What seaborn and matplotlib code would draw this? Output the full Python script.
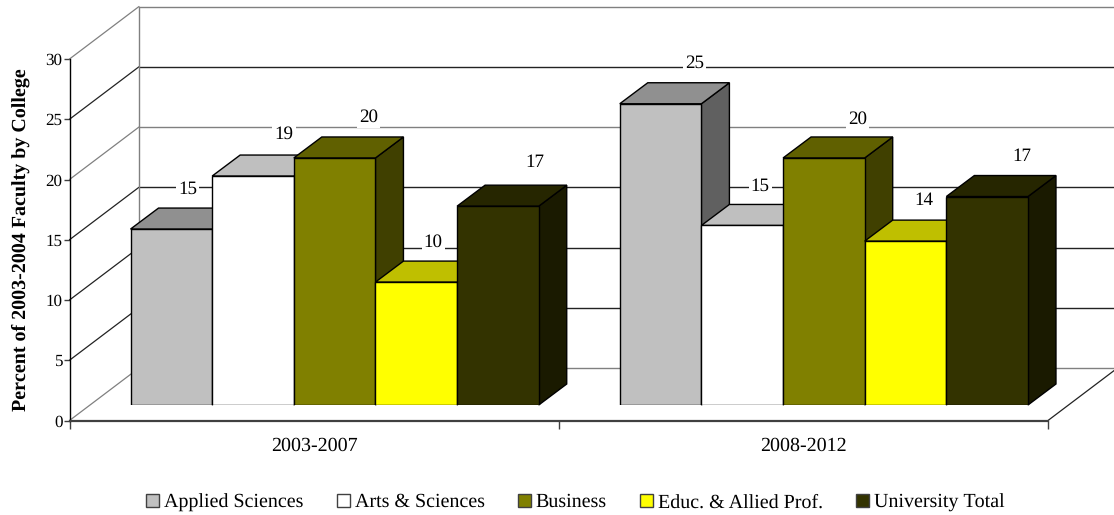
import matplotlib
matplotlib.use("Agg")
import matplotlib.pyplot as plt
from matplotlib.colors import to_rgb
from matplotlib.patches import Polygon
import pandas as pd
import seaborn as sns

periods = ["2003-2007", "2008-2012"]
colleges = ["Applied Sciences", "Arts & Sciences", "Business", "Educ. & Allied Prof.", "University Total"]
first_period = [14.6, 19.0, 20.5, 10.2, 16.5]
second_period = [25.0, 14.9, 20.5, 13.6, 17.3]
first_labels = ["15", "19", "20", "10", "17"]
second_labels = ["25", "15", "20", "14", "17"]
bar_colors = ["#C0C0C0", "#FFFFFF", "#808000", "#FFFF00", "#333300"]
y_ticks = [0, 5, 10, 15, 20, 25, 30]
y_title = "Percent of 2003-2004 Faculty by College"

# Layout, in pixels of the 1114x515 picture
W, H = 1114, 515
LEFT, RIGHT, BASE, TOP = 69.5, 1048, 420.5, 59
WALL_DX, WALL_DY = 69.5, 52.5
BAR_DX, BAR_DY = 20.5, 15.5
DEPTH_DX, DEPTH_DY = 28, 21
LABEL_DX = [16, 31, 34, 17, 37, 34, 18, 34, 18, 35]
LABEL_DY = [19, 21, 20, 19, 23, 20, 18, 18, 20, 19]

sns.set_theme(style="white")
plt.rcParams["font.family"] = ["Liberation Serif", "DejaVu Serif"]
plt.rcParams["text.hinting"] = "no_hinting"
plt.rcParams["text.hinting_factor"] = 1

fig = plt.figure(figsize=(W / 100, H / 100), dpi=100, facecolor="white")


def rect(dx=0.0, dy=0.0):
    return [(LEFT + dx) / W, (H - BASE + dy) / H, (RIGHT - LEFT) / W, (BASE - TOP) / H]


ax = fig.add_axes(rect())
ax.set_xlim(-0.5, 1.5)
ax.set_ylim(0, 30)
ax.set_facecolor("none")
sx = (RIGHT - LEFT) / 2
sy = (BASE - TOP) / 30

# Walls and floor of the box
wall_dx, wall_dy = WALL_DX / sx, WALL_DY / sy
for v in y_ticks:
    shade = "#808080" if v in (30, 20, 0) else "#222222"
    ax.plot([-0.5, -0.5 + wall_dx], [v, v + wall_dy], color=shade, lw=0.9, clip_on=False, zorder=1)
    ax.plot([-0.5 + wall_dx, 1.5 + wall_dx], [v + wall_dy, v + wall_dy], color=shade, lw=1.0,
            clip_on=False, zorder=1)
ax.plot([-0.5 + wall_dx] * 2, [wall_dy, 30 + wall_dy], color="#808080", lw=1.0, clip_on=False, zorder=1)
ax.plot([1.5, 1.5 + wall_dx], [0, wall_dy], color="#222222", lw=0.9, clip_on=False, zorder=1)

sns.despine(ax=ax, top=True, right=True)
ax.spines["left"].set_color("black")
ax.spines["left"].set_linewidth(1.0)
ax.spines["bottom"].set_color("#404040")
ax.spines["bottom"].set_linewidth(1.6)
ax.set_yticks(y_ticks)
ax.set_xticks([-0.5, 0.5, 1.5])
ax.set_xticklabels([])
ax.tick_params(axis="y", length=4, width=1, color="#404040", labelsize=12.6, pad=1, left=True, labelcolor="black")
ax.tick_params(axis="x", length=6, width=1, color="#404040", bottom=True)
for x, name in zip([0, 1], periods):
    ax.annotate(name, (x, 0), xytext=(0, -25), textcoords="offset pixels", ha="center", va="center",
                fontsize=14.4, color="black", annotation_clip=False)
ax.set_ylabel(y_title, fontsize=14.2, fontweight="bold", color="black")
ax.yaxis.set_label_coords((30 - LEFT) / (RIGHT - LEFT), 0.5)

# Bars
table = pd.DataFrame({
    "period": [periods[0]] * 5 + [periods[1]] * 5,
    "college": colleges * 2,
    "value": first_period + second_period,
})
bar_ax = fig.add_axes(rect(BAR_DX, BAR_DY))
sns.barplot(data=table, x="period", y="value", hue="college", order=periods, hue_order=colleges,
            palette=bar_colors, saturation=1, width=408 / 489, gap=0, edgecolor="black", linewidth=1.0,
            errorbar=None, ax=bar_ax)
handles, names = bar_ax.get_legend_handles_labels()
bar_ax.get_legend().remove()
bar_ax.set_xlim(-0.5, 1.5)
bar_ax.set_ylim(0, 30)
bar_ax.set_facecolor("none")
bar_ax.set_axis_off()

dx, dy = DEPTH_DX / sx, DEPTH_DY / sy
bars = sorted([p for p in bar_ax.patches if p.get_height() > 0], key=lambda p: p.get_x())
labels = first_labels + second_labels
for i, (bar, text, lab_dx, lab_dy) in enumerate(zip(bars, labels, LABEL_DX, LABEL_DY)):
    x0, w, h = bar.get_x(), bar.get_width(), bar.get_height()
    x1 = x0 + w
    base = to_rgb(bar.get_facecolor()[:3])
    z = 3 + i * 2
    bar.set_zorder(z + 1)
    top_face = Polygon([(x0, h), (x1, h), (x1 + dx, h + dy), (x0 + dx, h + dy)], closed=True,
                       facecolor=[c * 0.75 for c in base], edgecolor="black", lw=1.0, zorder=z, clip_on=False)
    side_face = Polygon([(x1, 0), (x1 + dx, dy), (x1 + dx, h + dy), (x1, h)], closed=True,
                        facecolor=[c * 0.5 for c in base], edgecolor="black", lw=1.0, zorder=z, clip_on=False)
    bar_ax.add_patch(side_face)
    bar_ax.add_patch(top_face)
    bar_ax.annotate(text, (x0 + w / 2, h + dy), xytext=(lab_dx, lab_dy), textcoords="offset pixels",
                    ha="center", va="center", fontsize=13.6, color="black", zorder=50, annotation_clip=False,
                    bbox=dict(facecolor="white", edgecolor="none", pad=1.5))

# Legend
font_px = 14.2 * 100 / 72
fig.legend(handles, names, loc="center", bbox_to_anchor=(575.5 / W, 1 - 502.5 / H), ncol=5, frameon=False,
           fontsize=14.2, labelcolor="black", handlelength=13 / font_px, handleheight=13 / font_px,
           handletextpad=5 / font_px, columnspacing=33 / font_px, borderpad=0, borderaxespad=0)
for h in fig.legends[0].legend_handles:
    h.set_edgecolor("#404040")
    h.set_linewidth(1.0)

fig.savefig("out.png", dpi=100, facecolor="white")
